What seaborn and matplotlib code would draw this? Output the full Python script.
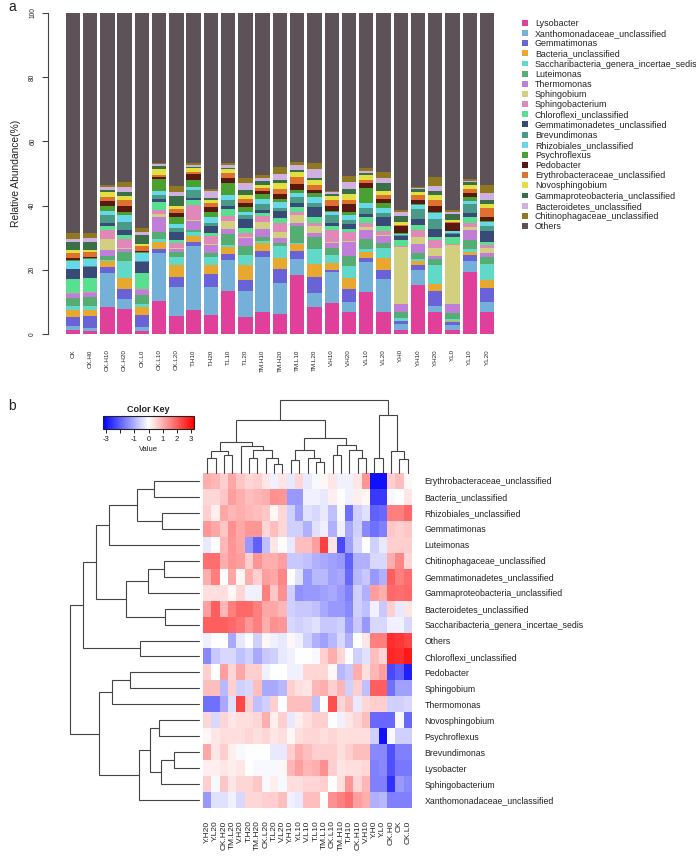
import numpy as np
import pandas as pd
import matplotlib
matplotlib.use("Agg")
import matplotlib.pyplot as plt
import seaborn as sns
from matplotlib.colors import LinearSegmentedColormap
from matplotlib.patches import Patch

W, H = 696, 859

# ---------------- panel a data ----------------
taxa = ["Lysobacter", "Xanthomonadaceae_unclassified", "Gemmatimonas", "Bacteria_unclassified",
        "Saccharibacteria_genera_incertae_sedis", "Luteimonas", "Thermomonas", "Sphingobium",
        "Sphingobacterium", "Chloroflexi_unclassified", "Gemmatimonadetes_unclassified",
        "Brevundimonas", "Rhizobiales_unclassified", "Psychroflexus", "Pedobacter",
        "Erythrobacteraceae_unclassified", "Novosphingobium", "Gammaproteobacteria_unclassified",
        "Bacteroidetes_unclassified", "Chitinophagaceae_unclassified", "Others"]
taxa_colors = ["#E0409A", "#74B0D8", "#6A63D8", "#E8A830", "#62D8C8", "#56AD72", "#C07ED8",
               "#D2D080", "#E088B8", "#58E090", "#3A4A78", "#4A9A88", "#68D8E8", "#4AA030",
               "#581A10", "#E07030", "#E0E040", "#3A7048", "#D0B0E0", "#907820", "#5C5258"]

samples = ["CK", "CK.H0", "CK.H10", "CK.H20", "CK.L0", "CK.L10", "CK.L20", "T.H10", "T.H20",
           "T.L10", "T.L20", "TM.H10", "TM.H20", "TM.L10", "TM.L20", "V.H10", "V.H20", "V.L10",
           "V.L20", "Y.H0", "Y.H10", "Y.H20", "Y.L0", "Y.L10", "Y.L20"]

# relative abundance (%) per sample, same order as taxa
ck = [1.1, 1.4, 2.9, 2.1, 1.2, 2.6, 1.3, 0.0, 0.3, 4.3, 2.9, 0.3, 2.4, 0.3, 0.5, 1.5, 1.1, 2.6, 0.9, 1.9, 68.4]
ck_h0 = [0.8, 1.2, 3.5, 2.0, 1.2, 2.8, 1.3, 0.0, 0.3, 4.3, 3.5, 0.3, 2.3, 0.2, 0.3, 1.5, 0.6, 2.7, 1.0, 1.6, 68.6]
ck_h10 = [8.3, 10.7, 1.8, 1.9, 0.5, 1.2, 1.8, 3.4, 2.8, 1.3, 1.0, 2.3, 1.2, 1.6, 1.5, 1.5, 1.5, 0.7, 0.7, 0.6, 53.7]
ck_h20 = [7.8, 3.2, 3.0, 3.4, 5.2, 2.9, 0.9, 0.3, 2.8, 1.3, 1.6, 2.4, 2.3, 1.0, 1.9, 1.8, 1.2, 1.3, 1.5, 1.6, 52.6]
ck_l0 = [1.0, 1.3, 3.6, 2.6, 0.8, 2.8, 1.5, 0.0, 0.3, 5.0, 3.5, 0.3, 2.6, 0.2, 0.4, 1.5, 0.5, 2.8, 1.0, 1.3, 67.0]
ck_l10 = [10.4, 14.8, 1.2, 2.4, 0.8, 2.3, 4.5, 1.0, 1.2, 2.6, 0.8, 1.2, 1.2, 3.9, 0.7, 0.6, 1.8, 0.8, 0.7, 0.5, 46.6]
ck_l20 = [5.5, 9.1, 3.1, 3.6, 2.5, 1.5, 1.0, 0.3, 1.5, 1.0, 2.6, 1.0, 1.5, 2.0, 1.2, 1.3, 1.0, 3.0, 1.3, 1.8, 53.6]
t_h10 = [7.6, 19.9, 1.0, 2.1, 1.1, 0.7, 2.6, 0.3, 4.7, 1.6, 0.8, 2.3, 1.0, 2.1, 1.9, 0.7, 1.2, 0.3, 0.7, 0.5, 46.7]
t_h20 = [5.9, 8.7, 4.1, 2.8, 2.6, 1.0, 2.6, 0.3, 2.4, 1.0, 2.1, 1.0, 1.8, 1.6, 1.6, 1.3, 0.9, 0.8, 2.1, 0.7, 54.7]
t_l10 = [13.3, 9.8, 1.9, 2.1, 0.7, 3.4, 1.5, 2.4, 1.8, 2.1, 0.8, 2.1, 1.3, 3.8, 1.6, 1.6, 1.2, 0.3, 1.0, 0.7, 46.6]
t_l20 = [5.2, 8.1, 3.6, 4.5, 3.3, 2.6, 2.6, 0.3, 1.2, 1.6, 2.9, 1.2, 1.0, 1.6, 1.0, 1.3, 1.2, 1.8, 1.9, 1.6, 51.5]
tm_h10 = [7.0, 17.1, 1.9, 2.3, 0.8, 1.0, 2.5, 2.4, 1.8, 1.0, 0.8, 1.9, 1.5, 1.7, 0.7, 1.0, 1.0, 1.2, 1.0, 0.8, 50.6]
tm_h20 = [6.2, 9.6, 4.4, 3.4, 3.8, 0.8, 1.6, 1.9, 2.8, 1.6, 2.1, 1.0, 1.8, 1.1, 1.6, 1.6, 1.6, 1.2, 1.9, 2.0, 48.0]
tm_l10 = [18.4, 4.9, 2.7, 2.0, 0.5, 5.0, 1.2, 2.4, 1.0, 1.6, 1.0, 2.1, 1.2, 1.0, 1.8, 2.0, 1.6, 0.8, 1.5, 1.0, 46.3]
tm_l20 = [8.4, 4.4, 4.9, 4.2, 4.6, 3.7, 1.2, 2.1, 1.0, 2.1, 3.1, 1.2, 1.9, 1.2, 1.0, 1.3, 1.6, 0.7, 2.9, 1.9, 46.6]
v_h10 = [9.6, 9.8, 0.5, 2.1, 2.6, 2.1, 1.6, 0.3, 3.9, 1.0, 1.0, 2.6, 1.0, 0.3, 1.6, 1.8, 1.3, 0.5, 0.5, 0.5, 55.4]
v_h20 = [7.0, 3.1, 3.8, 3.6, 3.7, 3.0, 4.5, 0.3, 2.8, 1.0, 1.6, 1.0, 1.8, 0.8, 2.4, 1.5, 1.6, 1.6, 2.1, 1.9, 50.9]
v_l10 = [13.0, 9.3, 1.3, 2.1, 0.7, 3.1, 2.9, 1.0, 1.2, 1.7, 1.2, 1.6, 1.6, 4.7, 1.6, 1.0, 1.6, 0.7, 0.6, 0.7, 48.4]
v_l20 = [7.0, 10.1, 2.9, 3.6, 3.1, 1.8, 1.9, 0.3, 1.3, 1.6, 2.9, 1.2, 1.6, 1.6, 1.2, 1.3, 1.3, 2.3, 1.6, 1.8, 49.6]
y_h0 = [1.3, 1.9, 0.7, 0.3, 0.7, 1.8, 2.7, 17.6, 0.3, 2.1, 1.0, 0.3, 0.5, 0.2, 2.3, 0.3, 0.8, 2.1, 1.0, 0.6, 61.5]
y_h10 = [15.3, 4.5, 1.8, 1.0, 0.7, 1.9, 2.8, 2.2, 2.1, 1.7, 1.9, 2.9, 1.3, 0.3, 1.3, 1.5, 1.0, 1.0, 0.3, 0.3, 54.2]
y_h20 = [7.0, 1.6, 4.7, 2.4, 5.9, 1.8, 1.0, 2.4, 2.4, 1.0, 2.5, 3.2, 1.8, 0.3, 1.9, 1.8, 1.6, 1.3, 1.6, 2.6, 51.2]
y_l0 = [1.3, 1.6, 0.7, 0.3, 0.7, 1.9, 2.9, 18.3, 0.3, 2.1, 1.0, 0.3, 0.6, 0.2, 2.3, 0.3, 0.7, 1.8, 0.8, 0.5, 61.4]
y_l10 = [19.2, 3.6, 1.9, 1.0, 0.7, 2.9, 3.1, 1.0, 1.2, 1.7, 1.5, 2.7, 0.9, 1.3, 1.2, 1.3, 1.3, 0.7, 0.5, 0.5, 51.8]
y_l20 = [6.7, 3.4, 4.1, 2.6, 4.9, 2.2, 1.2, 1.6, 1.0, 1.0, 3.4, 1.5, 1.3, 0.3, 1.3, 2.6, 1.3, 1.5, 2.1, 2.4, 53.6]

abund = pd.DataFrame([ck, ck_h0, ck_h10, ck_h20, ck_l0, ck_l10, ck_l20, t_h10, t_h20, t_l10, t_l20,
                      tm_h10, tm_h20, tm_l10, tm_l20, v_h10, v_h20, v_l10, v_l20, y_h0, y_h10,
                      y_h20, y_l0, y_l10, y_l20], index=samples, columns=taxa)
abund = abund.div(abund.sum(axis=1), axis=0) * 100

# ---------------- panel b data ----------------
heat_cols = ["Y.H20", "Y.L20", "CK.H20", "TM.L20", "V.H20", "T.H20", "TM.H20", "CK.L20", "T.L20",
             "V.L20", "Y.H10", "Y.L10", "V.L10", "T.L10", "TM.L10", "CK.L10", "TM.H10", "T.H10",
             "CK.H10", "V.H10", "Y.H0", "Y.L0", "CK.H0", "CK", "CK.L0"]
heat_rows = ["Erythrobacteraceae_unclassified", "Bacteria_unclassified", "Rhizobiales_unclassified",
             "Gemmatimonas", "Luteimonas", "Chitinophagaceae_unclassified",
             "Gemmatimonadetes_unclassified", "Gammaproteobacteria_unclassified",
             "Bacteroidetes_unclassified", "Saccharibacteria_genera_incertae_sedis", "Others",
             "Chloroflexi_unclassified", "Pedobacter", "Sphingobium", "Thermomonas",
             "Novosphingobium", "Psychroflexus", "Brevundimonas", "Lysobacter",
             "Sphingobacterium", "Xanthomonadaceae_unclassified"]

z_erythro = [1.0, 0.9, 0.6, 1.1, 0.7, 0.5, 0.6, 0.3, -0.2, 0.3, -0.3, 0.5, -0.3, -0.1, 0.1, 0.3, -0.2, -0.2, 0.3, 1.3, -3.0, -3.0, 0.6, 0.8, 0.1]
z_bacteria = [0.5, 0.5, 0.7, 1.2, 1.0, 0.8, 0.9, 1.0, 1.4, 1.3, -1.3, -1.3, -0.2, -0.2, -0.3, 0.2, 0.0, -0.2, 0.2, 0.1, -2.5, -2.5, -0.1, 0.0, 0.3]
z_rhizob = [0.6, 0.2, 1.1, 0.9, 1.0, 0.9, 0.8, 0.7, 0.1, 0.5, -0.6, -1.2, -0.4, -0.5, -0.3, -0.8, -0.1, -1.8, -0.6, -0.4, -2.0, -1.9, 1.6, 1.6, 1.9]
z_gemmatimonas = [1.3, 1.1, 0.7, 1.4, 1.1, 1.3, 1.3, 0.5, 0.8, 0.5, -0.6, -0.6, -1.0, -0.4, -0.2, -1.0, -0.2, -1.1, -0.6, -1.5, -1.8, -1.6, 0.7, 0.6, 0.7]
z_luteim = [-0.3, 0.0, 0.9, 1.3, 1.1, -1.3, -2.0, -0.8, 0.3, 0.0, -0.3, 0.8, 0.8, 1.2, 2.4, 0.3, -2.3, -1.2, -0.5, 0.0, -0.6, -0.3, 0.6, 0.6, 0.6]
z_chitin = [1.8, 1.8, 1.0, 1.3, 1.2, 0.6, 1.3, 1.0, 1.0, 1.2, -0.7, -0.7, -0.8, -1.0, -1.1, -1.2, -1.3, -2.0, -1.0, -1.0, -0.5, -0.5, 1.0, 1.5, 0.5]
z_gemmatimonadetes = [1.0, 1.6, 0.0, 1.1, 0.1, 1.0, 0.6, 1.2, 1.1, 1.5, 0.0, -0.4, -1.3, -0.9, -0.9, -1.2, -1.1, -1.9, -0.9, -0.7, -1.3, -1.0, 2.0, 1.6, 1.8]
z_gammaprot = [0.4, 0.4, 0.4, 0.1, 0.5, -0.2, -0.2, 1.6, 0.7, 1.4, -0.6, -1.4, -1.3, -1.3, -1.2, -1.1, -1.3, -1.6, -0.6, -1.0, 1.2, 1.0, 1.9, 1.8, 1.9]
z_bacteroid = [1.2, 2.0, 0.9, 1.6, 1.9, 1.9, 1.6, 1.1, 1.1, 0.9, -0.6, -0.7, -0.7, -0.8, -1.1, -1.3, -1.3, -1.5, -0.6, -0.8, -0.2, -0.7, 0.6, -0.3, 0.3]
z_saccharib = [2.0, 2.0, 2.0, 1.9, 1.7, 1.3, 1.6, 1.0, 1.4, 1.3, -0.5, -0.6, -0.5, -0.4, -0.7, -0.7, -0.6, -1.3, -0.7, -1.3, -0.5, -0.5, -0.2, -0.2, -0.5]
z_others = [-0.2, 0.0, 0.0, -1.1, -0.3, 0.0, -0.6, 0.1, -0.2, -0.3, 0.1, -0.2, -0.6, -1.0, -1.2, -0.9, -0.5, -1.0, 0.0, 0.3, 1.6, 1.6, 2.6, 2.5, 2.3]
z_chloroflexi = [-1.5, -0.7, -0.5, -0.5, -0.8, -0.6, -1.1, -0.7, -0.6, -0.3, -0.2, 0.0, 0.0, -0.1, 0.6, 1.0, 0.5, 0.0, -0.6, -0.4, 0.8, 0.5, 2.7, 2.6, 2.9]
z_pedobacter = [0.6, 0.0, 1.2, 0.5, 1.1, 0.6, 0.6, -0.2, 0.0, 0.0, -0.2, -0.2, 0.5, 0.5, 0.5, 0.1, -0.9, -0.7, 1.0, 0.4, 0.9, 1.2, -2.3, -2.0, -2.8]
z_sphingobium = [0.8, 0.8, -0.9, 0.6, -0.6, -0.5, 0.8, -1.1, -1.1, -0.9, 0.6, 0.4, 0.3, 0.9, 1.0, 0.6, 0.9, -0.6, 0.6, -0.8, 2.0, 2.0, -1.8, -1.2, -1.2]
z_thermomonas = [-1.8, -1.8, -1.1, -0.4, 2.3, 0.6, -0.8, -0.6, 0.6, 0.0, 0.8, 0.8, 0.8, -0.8, 0.0, 2.2, 0.5, 0.8, -0.3, 0.5, 0.6, 0.6, -0.6, -0.6, -0.5]
z_novosph = [0.5, -0.5, 0.5, 0.3, 0.4, 0.4, 0.5, 1.0, 0.2, 0.6, -0.3, 0.2, 0.4, 0.6, 0.6, 0.0, -0.2, 0.3, 0.5, 0.8, -1.9, -1.9, -1.9, -0.1, -1.9]
z_psychro = [0.1, 0.3, 0.4, 0.4, 0.4, 0.5, 0.4, 0.5, 0.3, 0.4, 0.1, 0.4, 0.5, 0.5, 0.4, 0.5, 0.4, 0.4, 0.4, 0.4, -0.6, -3.0, -0.1, -0.6, -0.6]
z_brevund = [1.1, 0.3, 0.6, 0.2, -0.1, 0.0, 0.0, 0.0, -0.3, -0.3, 0.6, 1.0, 0.8, 0.6, 0.6, 0.6, 0.4, 0.6, 0.8, 0.8, -1.5, -1.5, -2.2, -1.6, -1.6]
z_lysobacter = [0.2, 0.2, 0.3, 0.2, 0.3, 0.0, -0.1, -0.1, -0.1, 0.1, 0.9, 1.2, 0.9, 1.0, 1.4, 0.6, 0.3, 0.4, 0.4, 0.5, -1.6, -1.5, -2.2, -1.7, -1.7]
z_sphingobact = [0.6, -0.1, 0.7, 0.3, 0.5, 0.5, 0.7, -0.1, 0.2, -0.1, 0.4, 0.4, 0.5, 0.5, 0.6, 0.0, 0.4, 1.3, 0.5, 0.9, -1.6, -1.6, -2.6, -1.3, -1.5]
z_xantho = [-1.3, -0.4, -0.4, -0.2, -0.5, 0.5, 0.5, 0.6, 0.6, 0.8, -0.2, -0.3, 0.8, 0.8, 0.0, 1.4, 1.6, 1.8, 1.2, 1.0, -1.0, -0.9, -1.6, -1.6, -1.6]

zscores = pd.DataFrame([z_erythro, z_bacteria, z_rhizob, z_gemmatimonas, z_luteim, z_chitin,
                        z_gemmatimonadetes, z_gammaprot, z_bacteroid, z_saccharib, z_others,
                        z_chloroflexi, z_pedobacter, z_sphingobium, z_thermomonas, z_novosph,
                        z_psychro, z_brevund, z_lysobacter, z_sphingobact, z_xantho],
                       index=heat_rows, columns=heat_cols)

# dendrogram merges: (child, child, height); ids >= n are earlier merges
col_merges = [(0, 1, 45), (2, 3, 55), (25, 26, 65), (5, 6, 45), (8, 9, 28), (7, 29, 45),
              (28, 30, 70), (4, 31, 82), (27, 32, 92), (10, 11, 40), (13, 14, 32), (12, 35, 45),
              (34, 36, 70), (15, 16, 55), (18, 19, 45), (17, 39, 70), (38, 40, 85), (37, 41, 105),
              (33, 42, 160), (20, 21, 45), (23, 24, 42), (22, 45, 65), (44, 46, 175), (43, 47, 220)]
row_merges = [(0, 1, 136), (2, 3, 110), (21, 22, 186), (23, 4, 271), (5, 6, 105), (25, 7, 153),
              (8, 9, 101), (26, 27, 220), (24, 28, 311), (10, 11, 178), (29, 30, 348),
              (12, 13, 208), (32, 14, 261), (15, 16, 120), (17, 18, 74), (35, 19, 113),
              (34, 36, 146), (37, 20, 180), (33, 38, 300), (31, 39, 388)]

sns.set_style("ticks")
plt.rcParams["font.family"] = ["Liberation Sans", "DejaVu Sans"]
TXT = "#222222"

fig = plt.figure(figsize=(W / 100, H / 100), dpi=100)


def fax(x0, y0, x1, y1):
    return fig.add_axes([x0 / W, 1 - y1 / H, (x1 - x0) / W, (y1 - y0) / H])


def draw_dendro(ax, merges, n, top=True):
    pos = {i: i + 0.5 for i in range(n)}
    hgt = {i: 0 for i in range(n)}
    for k, (a, b, h) in enumerate(merges):
        xa, xb = pos[a], pos[b]
        if top:
            ax.plot([xa, xa, xb, xb], [hgt[a], h, h, hgt[b]], color="#444444", lw=0.8,
                    solid_joinstyle="miter", clip_on=False)
        else:
            ax.plot([hgt[a], h, h, hgt[b]], [xa, xa, xb, xb], color="#444444", lw=0.8,
                    solid_joinstyle="miter", clip_on=False)
        pos[n + k] = (xa + xb) / 2
        hgt[n + k] = h


# ---------------- panel a ----------------
ax_a = fax(48, 13, 498, 334)
x = np.arange(len(samples))
bottom = np.zeros(len(samples))
for t, c in zip(taxa, taxa_colors):
    ax_a.bar(x, abund[t].values, bottom=bottom, width=0.83, color=c, linewidth=0)
    bottom += abund[t].values
ax_a.set_xlim(-1.44, 24.64)
ax_a.set_ylim(0, 100)
for s in ["top", "right", "bottom"]:
    ax_a.spines[s].set_visible(False)
ax_a.spines["left"].set_color("#444444")
ax_a.spines["left"].set_linewidth(0.8)
ax_a.set_yticks([0, 20, 40, 60, 80, 100])
ax_a.set_yticklabels(["0", "20", "40", "60", "80", "100"], rotation=90, va="center",
                     fontsize=4.8, color=TXT)
ax_a.tick_params(axis="y", length=4.5, width=0.8, color="#444444", pad=4)
ax_a.set_xticks(x)
ax_a.set_xticklabels(samples, rotation=90, fontsize=4.5, color=TXT)
ax_a.tick_params(axis="x", length=0, pad=11)
ax_a.set_ylabel("Relative Abundance(%)", fontsize=7.4, color=TXT, labelpad=6)

handles = [Patch(facecolor=c, edgecolor="none") for c in taxa_colors]
leg = fig.legend(handles, taxa, loc="upper left", bbox_to_anchor=(522 / W, 1 - 19 / H),
                 frameon=False, fontsize=6.4, handlelength=0.65, handleheight=0.65,
                 handletextpad=0.8, labelspacing=0.13, borderaxespad=0, borderpad=0)
for txt in leg.get_texts():
    txt.set_color(TXT)

fig.text(8 / W, 1 - 7 / H, "a", fontsize=10, color=TXT, va="center")
fig.text(8 / W, 1 - 406 / H, "b", fontsize=10, color=TXT, va="center")

# ---------------- panel b ----------------
cmap = LinearSegmentedColormap.from_list("bwr_key", ["#0000FF", "#FFFFFF", "#FF0000"])
ax_h = fax(203, 473, 412, 808)
ax_key = fax(103, 416, 194, 429)
sns.heatmap(zscores, ax=ax_h, cmap=cmap, vmin=-3.2, vmax=3.2, cbar_ax=ax_key,
            cbar_kws={"orientation": "horizontal"}, xticklabels=True, yticklabels=True)
ax_h.yaxis.tick_right()
ax_h.set_yticklabels(heat_rows, rotation=0, fontsize=6.3, color=TXT)
ax_h.set_xticklabels(heat_cols, rotation=90, fontsize=6, color=TXT)
ax_h.tick_params(axis="y", length=0, pad=9)
ax_h.tick_params(axis="x", length=0, pad=9)
ax_h.set_xlabel("")
ax_h.set_ylabel("")

cbar = ax_h.collections[0].colorbar
cbar.set_ticks([-3, -2, -1, 0, 1, 2, 3])
cbar.set_ticklabels(["-3", "", "-1", "0", "1", "2", "3"])
cbar.ax.tick_params(labelsize=5.5, length=3, width=0.7, colors=TXT, pad=2)
cbar.outline.set_edgecolor("#222222")
cbar.outline.set_linewidth(0.8)
ax_key.set_title("Color Key", fontsize=6.5, fontweight="bold", color=TXT, pad=3)
ax_key.set_xlabel("Value", fontsize=5.5, color=TXT, labelpad=2)

ax_cd = fax(203, 400, 412, 473)
draw_dendro(ax_cd, col_merges, len(heat_cols), top=True)
ax_cd.set_xlim(0, len(heat_cols))
ax_cd.set_ylim(0, 220)
ax_cd.axis("off")

ax_rd = fax(70, 473, 199, 808)
draw_dendro(ax_rd, row_merges, len(heat_rows), top=False)
ax_rd.set_ylim(len(heat_rows), 0)
ax_rd.set_xlim(388, 0)
ax_rd.axis("off")

fig.savefig("out.png", dpi=100)
